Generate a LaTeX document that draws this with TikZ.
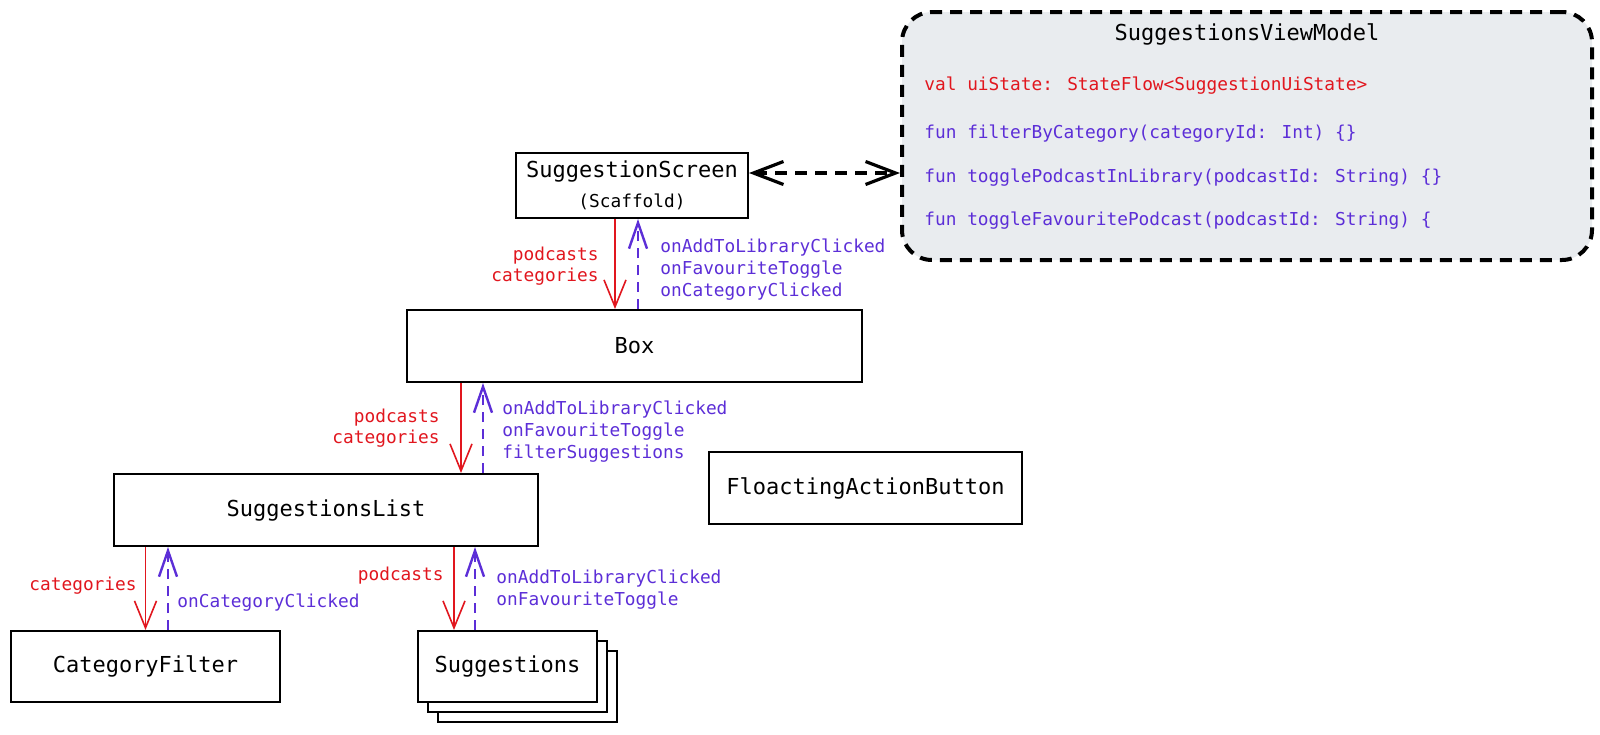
\documentclass[tikz,border=0pt]{standalone}
\usepackage{fontspec}
\setmainfont{DejaVu Sans Mono}
\usetikzlibrary{arrows.meta}
\definecolor{cred}{RGB}{225,22,30}
\definecolor{cpurp}{RGB}{92,46,215}
\definecolor{cgray}{RGB}{233,236,239}
\tikzset{
  box/.style={draw=black, line width=1pt, fill=white, inner sep=0pt, align=center, font=\fontsize{11}{14}\selectfont},
  redarr/.style={draw=cred, line width=0.8pt, -{Straight Barb[length=13.5pt,width=11pt]}},
  purparr/.style={draw=cpurp, line width=1.2pt, dash pattern=on 5pt off 3.5pt, -{Straight Barb[length=13pt,width=9pt]}},
  redlbl/.style={text=cred, inner sep=0pt, align=right, anchor=east, font=\fontsize{8.9}{10.7}\selectfont},
  purplbl/.style={text=cpurp, inner sep=0pt, align=left, anchor=west, font=\fontsize{8.9}{11}\selectfont},
  vmline/.style={inner sep=0pt, anchor=west, font=\fontsize{8.9}{11}\selectfont},
}
\begin{document}
\begin{tikzpicture}[x=0.5pt,y=-0.5pt]
\useasboundingbox (0,0) rectangle (1600,734);
% view model
\node[draw=black, line width=2pt, dash pattern=on 6pt off 4pt, fill=cgray, rounded corners=15pt,
  minimum width=345pt, minimum height=124pt, inner sep=0pt] (vm) at (1247,136) {};
\node[inner sep=0pt, font=\fontsize{11}{14}\selectfont] (vmt) at (1247,34) {SuggestionsViewModel};
\node[vmline, text=cred] (vm1) at (924,86) {val uiState: StateFlow<SuggestionUiState>};
\node[vmline, text=cpurp] (vm2) at (924,134) {fun filterByCategory(categoryId: Int) \{\}};
\node[vmline, text=cpurp] (vm3) at (924,178) {fun togglePodcastInLibrary(podcastId: String) \{\}};
\node[vmline, text=cpurp] (vm4) at (924,221) {fun toggleFavouritePodcast(podcastId: String) \{};
% boxes
\node[box, minimum width=116pt, minimum height=32.5pt] (scr) at (632,185.5)
  {SuggestionScreen\\[1pt] {\fontsize{8.9}{12}\selectfont(Scaffold)}};
\node[box, minimum width=227.5pt, minimum height=36pt] (bx) at (634.5,346) {Box};
\node[box, minimum width=212pt, minimum height=36pt] (lst) at (326,510) {SuggestionsList};
\node[box, minimum width=156.5pt, minimum height=36pt] (fab) at (865.5,488) {FloactingActionButton};
\node[box, minimum width=134.5pt, minimum height=35.5pt] (cat) at (145.5,666.5) {CategoryFilter};
\node[box, minimum width=89.5pt, minimum height=35.5pt] (sug3) at (527.5,686.5) {};
\node[box, minimum width=89.5pt, minimum height=35.5pt] (sug2) at (517.5,676.5) {};
\node[box, minimum width=89.5pt, minimum height=35.5pt] (sug) at (507.5,666.5) {Suggestions};
% double arrow
\coordinate (dy) at (0,173);
\draw[line width=1.6pt, dash pattern=on 6pt off 4pt, {Straight Barb[length=15pt,width=11.5pt]}-{Straight Barb[length=15pt,width=11.5pt]}]
  (scr.east |- dy) -- (vm.west |- dy);
% connectors
\coordinate (r1) at (615,0); \coordinate (p1) at (638,0);
\draw[redarr] (scr.south -| r1) -- (bx.north -| r1);
\draw[purparr] (bx.north -| p1) -- (scr.south -| p1);
\coordinate (r2) at (461,0); \coordinate (p2) at (483,0);
\draw[redarr] (bx.south -| r2) -- (lst.north -| r2);
\draw[purparr] (lst.north -| p2) -- (bx.south -| p2);
\coordinate (r3) at (145.5,0); \coordinate (p3) at (168,0);
\draw[redarr] (lst.south -| r3) -- (cat.north -| r3);
\draw[purparr] (cat.north -| p3) -- (lst.south -| p3);
\coordinate (r4) at (454,0); \coordinate (p4) at (475,0);
\draw[redarr] (lst.south -| r4) -- (sug.north -| r4);
\draw[purparr] (sug.north -| p4) -- (lst.south -| p4);
% labels
\node[redlbl] (l1) at (599,266) {podcasts\\categories};
\node[purplbl] (m1) at (660,269.5) {onAddToLibraryClicked\\onFavouriteToggle\\onCategoryClicked};
\node[redlbl] (l2) at (440,428) {podcasts\\categories};
\node[purplbl] (m2) at (502,431.5) {onAddToLibraryClicked\\onFavouriteToggle\\filterSuggestions};
\node[redlbl] (l3) at (137,586) {categories};
\node[purplbl] (m3) at (177,603) {onCategoryClicked};
\node[redlbl] (l4) at (444,576) {podcasts};
\node[purplbl] (m4) at (496,590) {onAddToLibraryClicked\\onFavouriteToggle};
\end{tikzpicture}
\end{document}
